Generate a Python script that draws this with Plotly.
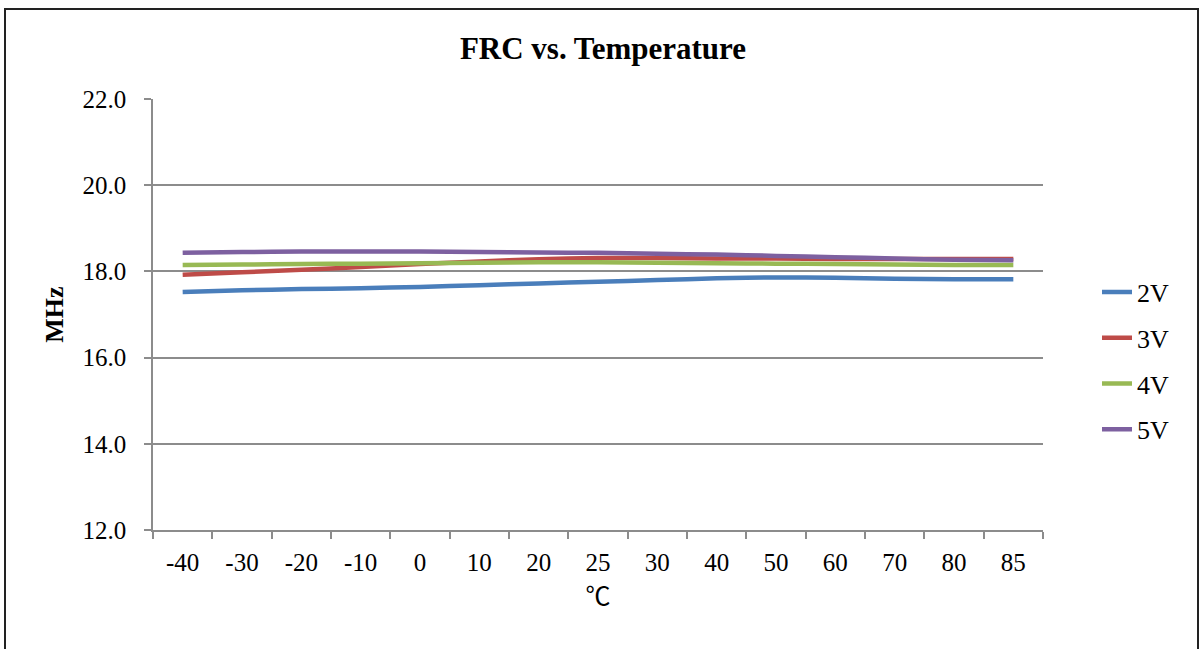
import plotly.graph_objects as go

TEMPS = ["-40", "-30", "-20", "-10", "0", "10", "20", "25", "30", "40", "50", "60", "70", "80", "85"]

FRC_2V = [17.52, 17.56, 17.59, 17.61, 17.64, 17.68, 17.72, 17.76, 17.80, 17.84, 17.86, 17.85, 17.83, 17.82, 17.82]
FRC_3V = [17.92, 17.98, 18.04, 18.10, 18.17, 18.23, 18.28, 18.31, 18.31, 18.30, 18.30, 18.29, 18.29, 18.29, 18.29]
FRC_4V = [18.15, 18.16, 18.17, 18.18, 18.19, 18.20, 18.21, 18.21, 18.20, 18.19, 18.18, 18.17, 18.16, 18.15, 18.15]
FRC_5V = [18.43, 18.45, 18.46, 18.46, 18.46, 18.45, 18.44, 18.43, 18.41, 18.39, 18.36, 18.33, 18.30, 18.27, 18.26]

SERIES = [
    ("2V", FRC_2V, "#4A7EBB"),
    ("3V", FRC_3V, "#BE4B48"),
    ("4V", FRC_4V, "#98B954"),
    ("5V", FRC_5V, "#7D60A0"),
]

SERIF = "Liberation Serif, Times New Roman, serif"
GRID = "#8c8c8c"

W, H = 1200, 649
L, R, T, B = 153, 157, 99, 119

fig = go.Figure()
for name, vals, color in SERIES:
    fig.add_trace(go.Scatter(
        x=TEMPS, y=vals, name=name, legendgroup=name,
        mode="lines",
        line=dict(color=color, width=4.5, shape="spline", smoothing=0.6),
    ))

# chart frame, in paper coords relative to the plot area
pw, ph = W - L - R, H - T - B
fig.add_shape(
    type="rect", xref="paper", yref="paper", layer="above",
    x0=(5 - L) / pw, x1=(1198 - L) / pw,
    y0=(H - B - 670) / ph, y1=(H - B - 9) / ph,
    line=dict(color="#222222", width=2), fillcolor="rgba(0,0,0,0)",
)

fig.update_layout(
    width=W, height=H,
    margin=dict(l=L, r=R, t=T, b=B),
    plot_bgcolor="white", paper_bgcolor="white",
    font=dict(family=SERIF, color="black", size=25),
    title=dict(
        text="<b>FRC vs. Temperature</b>", x=603 / W, xref="container", xanchor="center",
        y=1 - 48 / H, yanchor="middle", font=dict(family=SERIF, size=31, color="black"),
    ),
    legend=dict(
        x=(1097 - L) / pw, xanchor="left", y=(H - B - 361) / ph, yanchor="middle",
        font=dict(family=SERIF, size=26, color="black"),
        tracegroupgap=9, bgcolor="rgba(0,0,0,0)",
    ),
    showlegend=True,
)

fig.update_xaxes(
    type="category", categoryorder="array", categoryarray=TEMPS,
    range=[-0.5, len(TEMPS) - 0.5],
    showline=True, linecolor=GRID, linewidth=1.5,
    showgrid=False, ticks="outside", tickson="boundaries",
    ticklen=7, tickcolor=GRID, tickwidth=1.5, ticklabelstandoff=9,
    tickfont=dict(family=SERIF, size=25, color="black"),
    title=dict(text="℃", font=dict(family="Noto Sans CJK SC", size=25, color="black"), standoff=11),
)

fig.update_yaxes(
    range=[12, 22], dtick=2, tickformat=".1f",
    showline=True, linecolor=GRID, linewidth=1.5,
    showgrid=True, gridcolor=GRID, gridwidth=1.5,
    ticks="outside", ticklen=7, tickcolor=GRID, tickwidth=1.5,
    ticklabelstandoff=13, zeroline=False,
    tickfont=dict(family=SERIF, size=25, color="black"),
    title=dict(text="<b>MHz</b>", font=dict(family=SERIF, size=26, color="black"), standoff=11),
)

fig.write_html(
    "out.html",
    config={"displayModeBar": False},
    post_script="document.body.style.margin='0';",
)
